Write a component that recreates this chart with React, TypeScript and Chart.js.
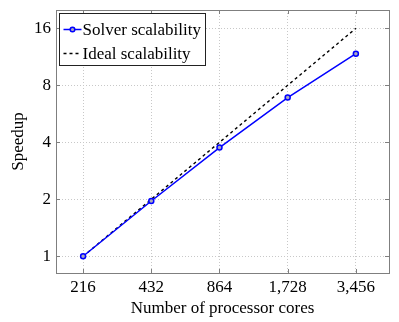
import React, { useEffect, useRef } from "react";
import { Chart, registerables } from "chart.js";

Chart.register(...registerables);

const cores = [216, 432, 864, 1728, 3456];
const solverSpeedup = [1, 1.96, 3.75, 6.89, 11.76];
const idealSpeedup = [1, 2, 4, 8, 16];
const yTickValues = [1, 2, 4, 8, 16];
const xTickValues = [216, 432, 864, 1728, 3456];
const seriesLabels = ["Solver scalability", "Ideal scalability"];

const FONT = "'Liberation Serif', 'Times New Roman', serif";
const FS = 17;

const framePlugin = {
  id: "frame",
  afterDraw(chart: any) {
    const { ctx, chartArea: a, scales } = chart;
    ctx.save();
    ctx.strokeStyle = "#7f7f7f";
    ctx.lineWidth = 1;
    ctx.strokeRect(Math.round(a.left) + 0.5, Math.round(a.top) + 0.5, Math.round(a.right - a.left), Math.round(a.bottom - a.top));
    const tl = 4;
    ctx.beginPath();
    for (const v of xTickValues) {
      const x = Math.round(scales.x.getPixelForValue(v)) + 0.5;
      ctx.moveTo(x, a.bottom);
      ctx.lineTo(x, a.bottom - tl);
      ctx.moveTo(x, a.top);
      ctx.lineTo(x, a.top + tl);
    }
    for (const v of yTickValues) {
      const y = Math.round(scales.y.getPixelForValue(v)) + 0.5;
      ctx.moveTo(a.left, y);
      ctx.lineTo(a.left + tl, y);
      ctx.moveTo(a.right, y);
      ctx.lineTo(a.right - tl, y);
    }
    ctx.stroke();

    // legend
    const bx = Math.round(a.left) + 3.5;
    const by = Math.round(a.top) + 3.5;
    const bw = 146;
    const bh = 52;
    ctx.fillStyle = "#fff";
    ctx.fillRect(bx, by, bw, bh);
    ctx.strokeStyle = "#222";
    ctx.strokeRect(bx, by, bw, bh);
    const rows = [by + 16, by + 40];
    ctx.font = `${FS}px ${FONT}`;
    ctx.textBaseline = "middle";
    ctx.fillStyle = "#000";
    // row 1
    ctx.strokeStyle = "#0000ff";
    ctx.lineWidth = 1.5;
    ctx.beginPath();
    ctx.moveTo(bx + 4, rows[0]);
    ctx.lineTo(bx + 22, rows[0]);
    ctx.stroke();
    ctx.beginPath();
    ctx.arc(bx + 13, rows[0], 2.3, 0, Math.PI * 2);
    ctx.fillStyle = "#aab";
    ctx.fill();
    ctx.stroke();
    ctx.fillStyle = "#000";
    ctx.fillText(seriesLabels[0], bx + 23, rows[0] + 1);
    // row 2
    ctx.strokeStyle = "#000";
    ctx.setLineDash([3, 3]);
    ctx.beginPath();
    ctx.moveTo(bx + 4, rows[1]);
    ctx.lineTo(bx + 22, rows[1]);
    ctx.stroke();
    ctx.setLineDash([]);
    ctx.fillText(seriesLabels[1], bx + 23, rows[1] + 1);
    ctx.restore();
  },
};

export default function App() {
  const ref = useRef<HTMLCanvasElement | null>(null);
  useEffect(() => {
    document.body.style.margin = "0";
    const chart = new Chart(ref.current as HTMLCanvasElement, {
      type: "scatter",
      data: {
        datasets: [
          {
            label: seriesLabels[1],
            data: cores.map((c, i) => ({ x: c, y: idealSpeedup[i] })),
            showLine: true,
            borderColor: "#000",
            borderWidth: 1.4,
            borderDash: [3, 3],
            pointRadius: 0,
            order: 2,
          },
          {
            label: seriesLabels[0],
            data: cores.map((c, i) => ({ x: c, y: solverSpeedup[i] })),
            showLine: true,
            borderColor: "#0000ff",
            borderWidth: 1.5,
            pointRadius: 2.5,
            pointBorderWidth: 1.5,
            pointBorderColor: "#0000ff",
            pointBackgroundColor: "#aab",
            order: 1,
          },
        ],
      },
      options: {
        animation: false,
        responsive: false,
        maintainAspectRatio: false,
        layout: { padding: { top: 10, right: 10, left: 0, bottom: 0 } },
        plugins: { legend: { display: false }, tooltip: { enabled: false } },
        scales: {
          x: {
            type: "logarithmic",
            min: 164,
            max: 4840,
            afterBuildTicks: (s: any) => {
              s.ticks = xTickValues.map((v) => ({ value: v }));
            },
            afterFit: (s: any) => {
              s.height = 49;
            },
            ticks: {
              autoSkip: false,
              maxRotation: 0,
              padding: 4,
              color: "#000",
              font: { family: FONT, size: FS },
              callback: (v: any) => Number(v).toLocaleString("en-US"),
            },
            grid: { color: "#c8c8c8", drawTicks: false },
            border: { display: false, dash: [1, 2] },
            title: {
              display: true,
              text: "Number of processor cores",
              color: "#000",
              font: { family: FONT, size: FS },
              padding: { top: 0, bottom: 3 },
            },
          },
          y: {
            type: "logarithmic",
            min: 0.816,
            max: 20,
            afterBuildTicks: (s: any) => {
              s.ticks = yTickValues.map((v) => ({ value: v }));
            },
            afterFit: (s: any) => {
              s.width = 56;
              s.paddingTop = 0;
              s.paddingBottom = 0;
            },
            ticks: {
              autoSkip: false,
              padding: 5,
              color: "#000",
              font: { family: FONT, size: FS },
              callback: (v: any) => String(v),
            },
            grid: { color: "#c8c8c8", drawTicks: false },
            border: { display: false, dash: [1, 2] },
            title: {
              display: true,
              text: "Speedup",
              color: "#000",
              font: { family: FONT, size: FS },
              padding: { top: 8, bottom: 0 },
            },
          },
        },
      },
      plugins: [framePlugin],
    });
    return () => chart.destroy();
  }, []);
  return (
    <div style={{ width: 399, height: 322 }}>
      <canvas ref={ref} width={399} height={322} style={{ display: "block" }} />
    </div>
  );
}
